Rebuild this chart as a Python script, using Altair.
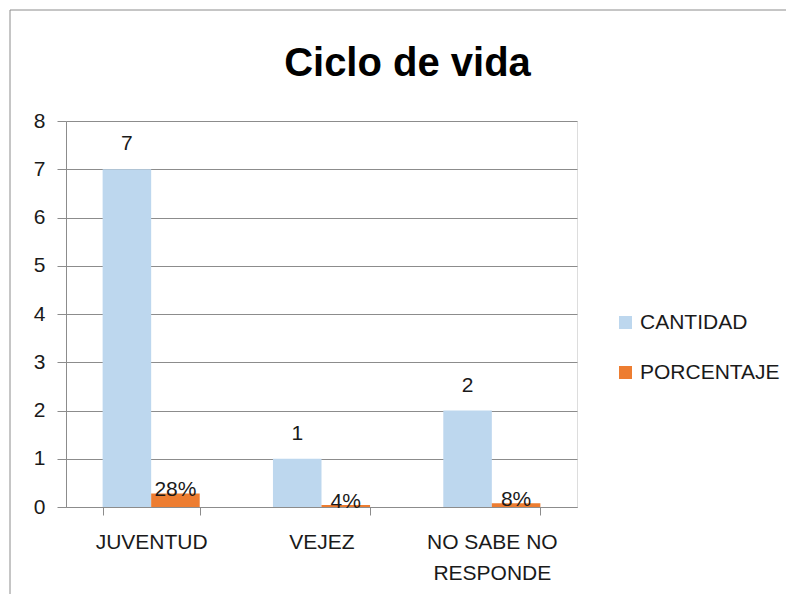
import altair as alt
import pandas as pd

categories = ["JUVENTUD", "VEJEZ", "NO SABE NO RESPONDE"]
series = ["CANTIDAD", "PORCENTAJE"]
cantidad = [7, 1, 2]
porcentaje = [0.28, 0.04, 0.08]
cantidad_labels = ["7", "1", "2"]
porcentaje_labels = ["28%", "4%", "8%"]
colors = ["#BDD7EE", "#ED7D31"]
y_ticks = [0, 1, 2, 3, 4, 5, 6, 7, 8]

rows = []
for i, c in enumerate(categories):
    rows.append(dict(cat=c, serie=series[0], value=cantidad[i], label=cantidad_labels[i]))
    rows.append(dict(cat=c, serie=series[1], value=porcentaje[i], label=porcentaje_labels[i]))
df = pd.DataFrame(rows)

FONT = "Liberation Sans"
GRID = "#8c8c8c"

x_enc = alt.X(
    "cat:N", sort=categories,
    scale=alt.Scale(paddingInner=0.43, paddingOuter=0.215),
    axis=alt.Axis(
        title=None, labelAngle=0, tickBand="extent", tickSize=8, tickColor=GRID,
        domainColor=GRID, labelFontSize=21, labelFont=FONT, labelColor="#1a1a1a",
        labelPadding=16, labelLineHeight=31,
        labelExpr="datum.value == 'NO SABE NO RESPONDE' ? ['NO SABE NO', 'RESPONDE'] : datum.value",
    ),
)
xo_enc = alt.XOffset("serie:N", sort=series, scale=alt.Scale(domain=series, paddingInner=0, paddingOuter=0))
y_enc = alt.Y(
    "value:Q", scale=alt.Scale(domain=[0, 8], nice=False),
    axis=alt.Axis(
        title=None, values=y_ticks, grid=True, gridColor=GRID, tickColor=GRID, tickSize=9,
        domainColor=GRID, labelFontSize=21, labelFont=FONT, labelColor="#1a1a1a", labelPadding=12,
    ),
)

base = alt.Chart(df)

bars = base.mark_bar().encode(
    x=x_enc, xOffset=xo_enc, y=y_enc,
    color=alt.Color(
        "serie:N", scale=alt.Scale(domain=series, range=colors),
        legend=alt.Legend(
            title=None, orient="none", legendX=549, legendY=191, symbolType="square",
            symbolSize=169, symbolStrokeWidth=0, labelFontSize=21, labelFont=FONT,
            labelColor="#1a1a1a", rowPadding=28, labelOffset=4, padding=0,
        ),
    ),
)

txt_blue = base.transform_filter(alt.datum.serie == series[0]).mark_text(
    baseline="alphabetic", dy=-19, fontSize=21, font=FONT, color="#1a1a1a"
).encode(x=x_enc, xOffset=xo_enc, y=y_enc, text="label:N")

txt_orange = base.transform_filter(alt.datum.serie == series[1]).mark_text(
    baseline="alphabetic", dy=3, fontSize=21, font=FONT, color="#1a1a1a"
).encode(x=x_enc, xOffset=xo_enc, y=y_enc, text="label:N")

border = alt.Chart(pd.DataFrame({"a": [0]})).mark_rect(
    fill=None, stroke=GRID, strokeWidth=1
).encode(x=alt.value(-56), x2=alt.value(760), y=alt.value(-111), y2=alt.value(500))

chart = alt.layer(border, bars, txt_blue, txt_orange).properties(
    width=511, height=386,
    autosize=alt.AutoSizeParams(type="none"),
    padding={"left": 58, "top": 113, "right": 209, "bottom": 87},
    title=alt.TitleParams(
        "Ciclo de vida", fontSize=40, font=FONT, fontWeight="bold", color="#000000",
        anchor="middle", frame="group", dx=86, offset=0, dy=106, baseline="alphabetic",
    ),
).configure_view(stroke=None).configure(background="white")

chart.save("out.html", embed_options={"renderer": "svg", "actions": False})
